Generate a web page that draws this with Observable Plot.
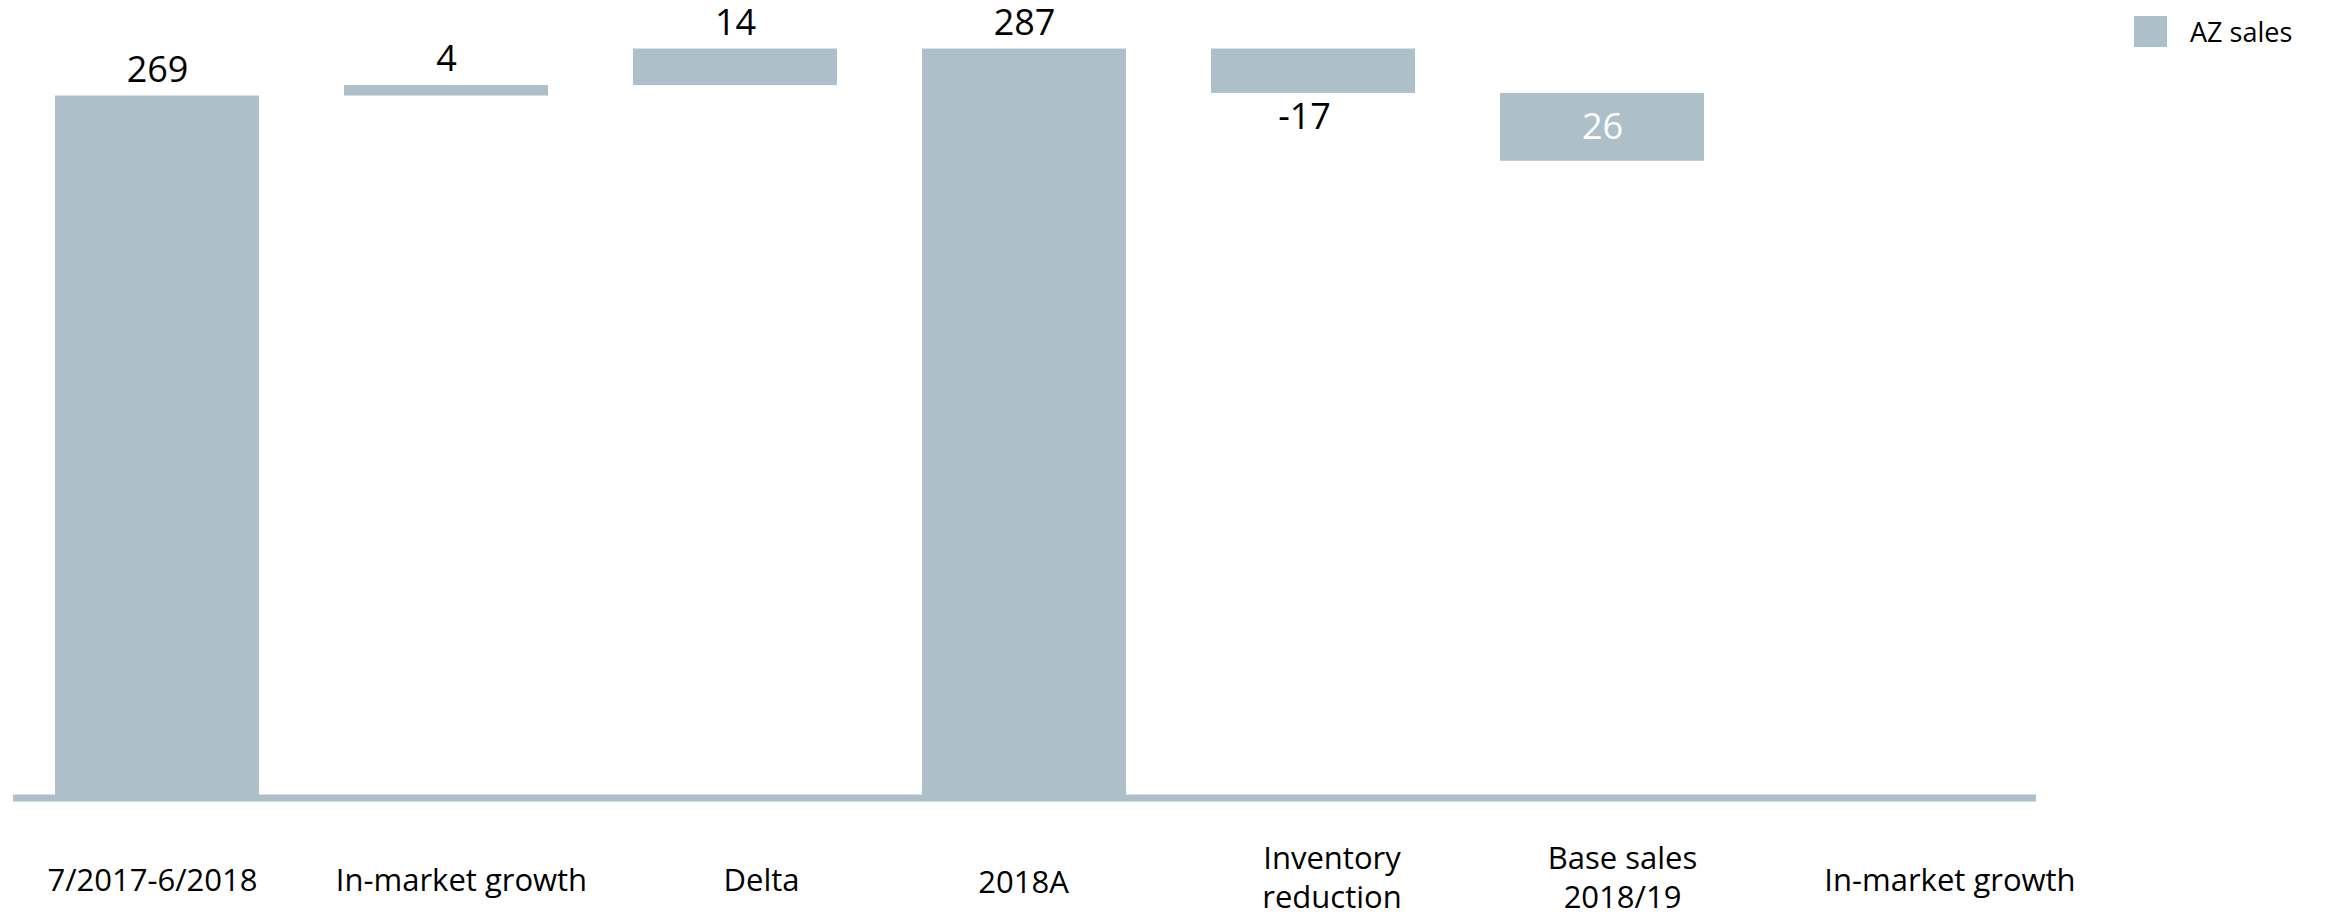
<!DOCTYPE html>
<html>
<head>
<meta charset="utf-8">
<script src="https://cdn.jsdelivr.net/npm/d3@7"></script>
<script src="https://cdn.jsdelivr.net/npm/@observablehq/plot@0.6"></script>
<style>
  html, body { margin: 0; padding: 0; background: #fff; }
  #wrap { position: relative; width: 2325px; height: 915px; }
  #legend { position: absolute; left: 2134px; top: 13px; }
  #legend svg { margin-right: 23px !important; }
</style>
</head>
<body>
<div id="wrap"><div id="chart"></div><div id="legend"></div></div>
<script>
// ---- data ----
const categories = ["7/2017-6/2018", "In-market growth", "Delta", "2018A", "Inventory\nreduction", "Base sales\n2018/19", "In-market growth"];
const barStart = [0, 269, 273, 0, 287, 270];
const barEnd = [269, 273, 287, 287, 270, 244];
const valueLabels = ["269", "4", "14", "287", "-17", "26"];
const labelPlacement = ["above", "above", "above", "above", "below", "inside"];
const seriesName = "AZ sales";

// ---- styling (label nudges as in the original slide) ----
const barColor = "#adbfc8";
const font = "'Open Sans', 'DejaVu Sans', sans-serif";
const tickDx = [-5, 15, 26, -1, 18.5, 20, 58.5];
const tickDy = [0, 0, 0, 2, -3, -3, 0];

const idx = categories.map((_, i) => i);
const bars = barStart.map((s, i) => ({i, y1: s, y2: barEnd[i], label: valueLabels[i], place: labelPlacement[i]}));

const above = bars.filter(d => d.place === "above");
const below = bars.filter(d => d.place === "below");
const inside = bars.filter(d => d.place === "inside");

const axes = idx.map(i => Plot.axisX([i], {
  tickSize: 0,
  tickPadding: 0,
  dx: tickDx[i],
  dy: 81 + tickDy[i],
  lineAnchor: "middle",
  lineHeight: 1.25,
  fontSize: 31,
  fill: "#000",
  tickFormat: k => categories[k],
  label: null
}));

const chart = Plot.plot({
  width: 2325,
  height: 915,
  marginLeft: 13,
  marginRight: 289,
  marginTop: 0,
  marginBottom: 117.5,
  style: {fontFamily: font, background: "#fff", color: "#000", overflow: "visible"},
  x: {type: "band", domain: idx, paddingInner: 0.294, paddingOuter: 0.147, axis: null},
  y: {domain: [0, 305.6], axis: null},
  marks: [
    Plot.barY(bars, {x: "i", y1: "y1", y2: "y2", fill: barColor}),
    Plot.ruleY([0], {stroke: barColor, strokeWidth: 7}),
    Plot.text(above, {x: "i", y: d => Math.max(d.y1, d.y2), text: "label", dy: -26, fontSize: 36, fill: "#000"}),
    Plot.text(below, {x: "i", y: d => Math.min(d.y1, d.y2), text: "label", dy: 24, dx: -9, fontSize: 36, fill: "#000"}),
    Plot.text(inside, {x: "i", y: d => (d.y1 + d.y2) / 2, text: "label", fontSize: 36, fill: "#fff"}),
    ...axes
  ]
});
document.getElementById("chart").appendChild(chart);

const legend = Plot.legend({
  color: {type: "categorical", domain: [seriesName], range: [barColor]},
  swatchWidth: 33,
  swatchHeight: 31,
  style: {fontFamily: font, fontSize: "27px", color: "#000", margin: 0}
});
document.getElementById("legend").appendChild(legend);
</script>
</body>
</html>
